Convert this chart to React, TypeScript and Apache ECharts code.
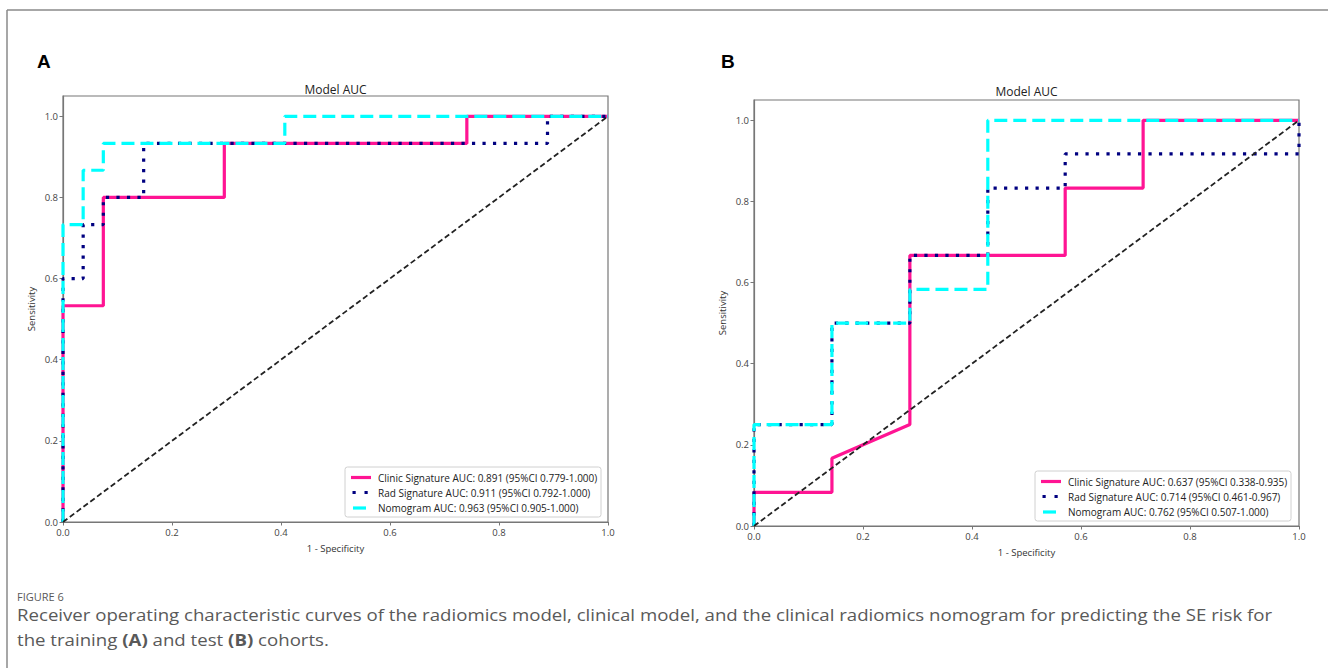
import React, { useEffect, useRef } from "react";
import * as echarts from "echarts";

// ---- Training cohort (A) ----
const trainClinicFpr = [0, 0, 0.074, 0.074, 0.296, 0.296, 0.741, 0.741, 1.0];
const trainClinicTpr = [0, 0.533, 0.533, 0.8, 0.8, 0.933, 0.933, 1.0, 1.0];
const trainRadFpr = [0, 0, 0.037, 0.037, 0.074, 0.074, 0.148, 0.148, 0.889, 0.889, 1.0];
const trainRadTpr = [0, 0.6, 0.6, 0.733, 0.733, 0.8, 0.8, 0.933, 0.933, 1.0, 1.0];
const trainNomoFpr = [0, 0, 0.037, 0.037, 0.074, 0.074, 0.407, 0.407, 1.0];
const trainNomoTpr = [0, 0.733, 0.733, 0.867, 0.867, 0.933, 0.933, 1.0, 1.0];

// ---- Test cohort (B) ----
const testClinicFpr = [0, 0, 0.143, 0.143, 0.286, 0.286, 0.571, 0.571, 0.714, 0.714, 1.0];
const testClinicTpr = [0, 0.083, 0.083, 0.167, 0.25, 0.667, 0.667, 0.833, 0.833, 1.0, 1.0];
const testRadFpr = [0, 0, 0.143, 0.143, 0.286, 0.286, 0.429, 0.429, 0.571, 0.571, 1.0, 1.0];
const testRadTpr = [0, 0.25, 0.25, 0.5, 0.5, 0.667, 0.667, 0.833, 0.833, 0.917, 0.917, 1.0];
const testNomoFpr = [0, 0, 0.143, 0.143, 0.286, 0.286, 0.429, 0.429, 1.0];
const testNomoTpr = [0, 0.25, 0.25, 0.5, 0.5, 0.583, 0.583, 1.0, 1.0];

const diagX = [0, 1];
const diagY = [0, 1];

const tickValues = [0, 0.2, 0.4, 0.6, 0.8, 1.0];

const trainLegend = [
  "Clinic Signature AUC: 0.891 (95%CI 0.779-1.000)",
  "Rad Signature AUC: 0.911 (95%CI 0.792-1.000)",
  "Nomogram AUC: 0.963 (95%CI 0.905-1.000)",
];
const testLegend = [
  "Clinic Signature AUC: 0.637 (95%CI 0.338-0.935)",
  "Rad Signature AUC: 0.714 (95%CI 0.461-0.967)",
  "Nomogram AUC: 0.762 (95%CI 0.507-1.000)",
];

const chartTitle = "Model AUC";
const xName = "1 - Specificity";
const yName = "Sensitivity";
const captionHead = "FIGURE 6";
const captionLine1 =
  "Receiver operating characteristic curves of the radiomics model, clinical model, and the clinical radiomics nomogram for predicting the SE risk for";

const PINK = "#ff1493";
const NAVY = "#000080";
const CYAN = "#00ffff";
const FONT = "'Open Sans', 'Noto Sans', sans-serif";

const zip = (xs: number[], ys: number[]) => xs.map((x, i) => [x, ys[i]]);

function curveSeries(name: string, idx: number, xs: number[], ys: number[], kind: string) {
  const base: any = {
    name,
    type: "line",
    xAxisIndex: idx,
    yAxisIndex: idx,
    data: zip(xs, ys),
    showSymbol: false,
    symbol: "none",
    clip: false,
    silent: true,
  };
  if (kind === "clinic") base.lineStyle = { color: PINK, width: 3.2, cap: "butt" };
  if (kind === "rad") base.lineStyle = { color: NAVY, width: 3.2, type: [3.2, 7.3], cap: "butt" };
  if (kind === "nomo") base.lineStyle = { color: CYAN, width: 3.2, type: [13, 6], cap: "butt" };
  if (kind === "diag") base.lineStyle = { color: "#222", width: 1.8, type: [5.5, 3], cap: "butt" };
  return base;
}

function xAxisCfg(idx: number) {
  return {
    type: "value",
    gridIndex: idx,
    min: 0,
    max: 1,
    interval: 0.2,
    name: xName,
    nameLocation: "middle",
    nameGap: 21,
    nameTextStyle: { fontSize: 9.5, color: "#333", fontFamily: FONT },
    axisLine: { show: true, lineStyle: { color: "#777", width: 1.2 } },
    axisTick: { show: true, length: 3.5, inside: false, lineStyle: { color: "#777" } },
    axisLabel: {
      fontSize: 9.5,
      color: "#444",
      fontFamily: FONT,
      margin: 5,
      formatter: (v: number) => v.toFixed(1),
    },
    splitLine: { show: false },
  };
}

function yAxisCfg(idx: number) {
  return {
    type: "value",
    gridIndex: idx,
    min: 0,
    max: 1.05,
    name: yName,
    nameLocation: "middle",
    nameGap: 27,
    nameRotate: 90,
    nameTextStyle: { fontSize: 9.5, color: "#333", fontFamily: FONT },
    axisLine: { show: true, lineStyle: { color: "#777", width: 1.2 } },
    axisTick: { show: true, length: 3.5, customValues: tickValues, lineStyle: { color: "#777" } },
    axisLabel: {
      fontSize: 9.5,
      color: "#444",
      fontFamily: FONT,
      margin: 5,
      customValues: tickValues,
      formatter: (v: number) => v.toFixed(1),
    },
    splitLine: { show: false },
  };
}

function legendGraphic(x0: number, y0: number, labels: string[]) {
  const rows = [y0 + 10.5, y0 + 25.5, y0 + 41];
  const els: any[] = [
    {
      type: "rect",
      z: 100,
      shape: { x: x0, y: y0, width: 256, height: 50, r: 2.5 },
      style: { fill: "#fff", stroke: "#d0d0d0", lineWidth: 1 },
    },
    {
      type: "line",
      z: 101,
      shape: { x1: x0 + 6, y1: rows[0], x2: x0 + 26, y2: rows[0] },
      style: { stroke: PINK, lineWidth: 3.2 },
    },
    {
      type: "line",
      z: 101,
      shape: { x1: x0 + 7.5, y1: rows[1], x2: x0 + 26, y2: rows[1] },
      style: { stroke: NAVY, lineWidth: 3.2, lineDash: [3.2, 8.8] },
    },
    {
      type: "line",
      z: 101,
      shape: { x1: x0 + 8, y1: rows[2], x2: x0 + 21, y2: rows[2] },
      style: { stroke: CYAN, lineWidth: 3.2 },
    },
  ];
  labels.forEach((t, i) => {
    els.push({
      type: "text",
      z: 101,
      x: x0 + 33,
      y: rows[i],
      style: {
        text: t,
        fill: "#222",
        font: `10px ${FONT}`,
        align: "left",
        textAlign: "left",
        verticalAlign: "middle",
        textVerticalAlign: "middle",
      },
    });
  });
  return els;
}

function textEl(text: string, x: number, y: number, font: string, fill: string, align = "left", scaleX = 1) {
  return {
    type: "text",
    z: 100,
    x,
    y,
    scaleX,
    style: {
      text,
      fill,
      font,
      align,
      textAlign: align,
      verticalAlign: "middle",
      textVerticalAlign: "middle",
    },
  };
}

const CAP_FONT = `16px ${FONT}`;
const CAP_SCALE = 1.165;

const option: any = {
  animation: false,
  backgroundColor: "#ffffff",
  grid: [
    { left: 63, top: 96, width: 545, height: 426, show: true, borderColor: "#777", borderWidth: 1.2, backgroundColor: "#fff" },
    { left: 754, top: 100, width: 545, height: 426, show: true, borderColor: "#777", borderWidth: 1.2, backgroundColor: "#fff" },
  ],
  xAxis: [xAxisCfg(0), xAxisCfg(1)],
  yAxis: [yAxisCfg(0), yAxisCfg(1)],
  series: [
    curveSeries(trainLegend[0], 0, trainClinicFpr, trainClinicTpr, "clinic"),
    curveSeries(trainLegend[1], 0, trainRadFpr, trainRadTpr, "rad"),
    curveSeries(trainLegend[2], 0, trainNomoFpr, trainNomoTpr, "nomo"),
    curveSeries("chance-A", 0, diagX, diagY, "diag"),
    curveSeries(testLegend[0], 1, testClinicFpr, testClinicTpr, "clinic"),
    curveSeries(testLegend[1], 1, testRadFpr, testRadTpr, "rad"),
    curveSeries(testLegend[2], 1, testNomoFpr, testNomoTpr, "nomo"),
    curveSeries("chance-B", 1, diagX, diagY, "diag"),
  ],
  graphic: [
    // frame
    { type: "line", z: 1, shape: { x1: 7, y1: 10, x2: 1328, y2: 10 }, style: { stroke: "#8a8a8a", lineWidth: 1.5 } },
    { type: "line", z: 1, shape: { x1: 7, y1: 10, x2: 7, y2: 668 }, style: { stroke: "#8a8a8a", lineWidth: 1.5 } },
    // panel labels
    textEl("A", 37, 61, `bold 19px 'Liberation Sans', Arial, sans-serif`, "#000"),
    textEl("B", 721, 61, `bold 19px 'Liberation Sans', Arial, sans-serif`, "#000"),
    // titles
    textEl(chartTitle, 335.5, 89, `12px ${FONT}`, "#222", "center"),
    textEl(chartTitle, 1026.5, 91, `12px ${FONT}`, "#222", "center"),
    ...legendGraphic(345, 467, trainLegend),
    ...legendGraphic(1035, 471, testLegend),
    // caption
    textEl(captionHead, 17, 596, `11px ${FONT}`, "#595959"),
    textEl(captionLine1, 17, 615, CAP_FONT, "#595959", "left", CAP_SCALE),
    {
      type: "text",
      z: 100,
      x: 17,
      y: 640,
      scaleX: CAP_SCALE,
      style: {
        rich: {
          n: { font: CAP_FONT, fill: "#595959" },
          b: { font: `bold ${CAP_FONT}`, fill: "#595959" },
        },
        text: "{n|the training }{b|(A)}{n| and test }{b|(B)}{n| cohorts.}",
        align: "left",
        textAlign: "left",
        verticalAlign: "middle",
        textVerticalAlign: "middle",
      },
    },
  ],
};

export default function App() {
  const ref = useRef<HTMLDivElement>(null);
  useEffect(() => {
    if (!ref.current) return;
    const chart = echarts.init(ref.current, null, { renderer: "svg" });
    chart.setOption(option);
    return () => chart.dispose();
  }, []);
  return (
    <div
      ref={ref}
      style={{ position: "absolute", left: 0, top: 0, width: 1328, height: 668, background: "#fff" }}
    />
  );
}
